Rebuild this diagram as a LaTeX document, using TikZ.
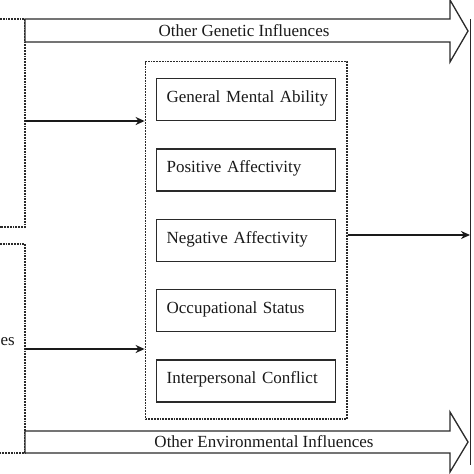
\documentclass[tikz,border=0pt]{standalone}
\usepackage{fontspec}
\setmainfont{Liberation Serif}
\usetikzlibrary{positioning, fit, arrows.meta}
\definecolor{inkc}{HTML}{1A1A1A}
\definecolor{linec}{HTML}{2A2A2A}

\begin{document}
\begin{tikzpicture}[x=1pt, y=-1pt,
      font=\fontsize{17}{20}\selectfont, text=inkc,
      trait/.style={draw=linec, line width=1.3pt, align=left, text width=169pt,
                    inner xsep=5pt, inner ysep=6pt, text height=18pt, text depth=12pt,
                    execute at begin node=\hspace*{5pt}},
      grp/.style={draw=linec, densely dotted, line width=1.8pt, inner xsep=10.5pt,
                  inner ysep=16.5pt},
      side/.style={draw=linec, densely dotted, line width=1.8pt},
      bigarr/.style={draw=linec, line width=1.3pt, fill=white, line join=miter},
      link/.style={-{Stealth[length=9pt, width=8pt]}, inkc, line width=2.2pt},
      node distance=27pt]
    \useasboundingbox (0,0) rectangle (474,474);
    % traits inside the dotted group
    \node[trait, anchor=north west] (gma) at (156,78) {General Mental Ability};
    \node[trait, below=of gma] (pa) {Positive Affectivity};
    \node[trait, below=of pa]  (na) {Negative Affectivity};
    \node[trait, below=of na]  (os) {Occupational Status};
    \node[trait, below=of os]  (ic) {Interpersonal Conflict};
    \node[grp, fit=(gma)(ic)] (grp) {};
    % genetic / environmental sides (cut at the left edge)
    \draw[side] (0,19) -- (25,19) -- (25,227) -- (0,227);
    \draw[side] (0,244) -- (25,244) -- (25,453) -- (0,453);
    \node[anchor=east, inner sep=0pt] (envlbl) at (15,342) {es};
    % other influences
    \draw[bigarr] (25,19) -- (450,19) -- (450,0) -- (468,31) -- (450,62) -- (450,42)
      -- (25,42) -- cycle;
    \draw[bigarr] (25,431) -- (450,431) -- (450,412) -- (468,442) -- (450,472)
      -- (450,453) -- (25,453) -- cycle;
    \node (gen) at (244,31) {Other Genetic Influences};
    \node (env) at (264,442) {Other Environmental Influences};
    % outcome edge
    \draw[linec, line width=1.3pt] (470.5,19) -- (470.5,465);
    \coordinate (gsrc) at (25,121);
    \coordinate (esrc) at (25,349);
    \coordinate (outc) at (470,235);
    \draw[link] (gsrc) -- (gsrc -| grp.west);
    \draw[link] (esrc) -- (esrc -| grp.west);
    \draw[link] (outc -| grp.east) -- (outc);
  \end{tikzpicture}
\end{document}
